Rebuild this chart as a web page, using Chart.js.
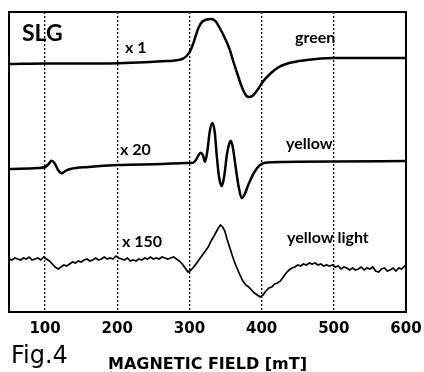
<!DOCTYPE html>
<html>
<head>
<meta charset="utf-8">
<script src="https://cdn.jsdelivr.net/npm/chart.js@4/dist/chart.umd.min.js"></script>
<style>
  html, body { margin: 0; padding: 0; background: #fff; }
  #wrap { width: 424px; height: 372px; }
</style>
</head>
<body>
<div id="wrap"><canvas id="epr"></canvas></div>
<script>
// field in mT, intensity in arbitrary units (traces stacked, offset included)
const greenField = [50, 100, 176, 245, 270, 280, 290, 296, 301, 305, 309, 313, 318, 324, 330, 336, 342, 349, 356, 361, 366, 371, 375.6, 379, 382.5, 387, 391, 396, 400.5, 410, 424, 438, 452, 475, 500, 550, 600];
const greenSignal = [248, 248.5, 248.5, 250, 251, 251.5, 253, 256, 261, 268, 277, 285, 290.5, 292.5, 293, 291, 284, 274, 262, 250, 239, 228, 220, 216, 215, 216, 219, 224, 229, 237, 245, 249, 251, 253, 254, 254, 254];

const yellowField = [50, 90, 100, 105, 109, 113, 118, 123, 128, 135, 160, 201, 263, 295, 303.6, 308, 312, 315.6, 318.5, 321.6, 325, 328, 331.7, 335, 338, 341, 344.7, 348, 352, 355, 357.2, 360, 364, 368, 372.4, 376, 382, 390, 397, 404.7, 430, 500, 600];
const yellowSignal = [143, 144, 145, 148, 151.3, 149, 142, 138.7, 141, 143, 145, 147, 148, 149, 149, 151, 156, 159.3, 157, 150.3, 162, 180, 189, 180, 155, 135, 126, 135, 158, 168, 171.3, 165, 145, 126, 114, 117, 128, 140, 146.5, 149.3, 150, 150.5, 151];

const lightField = [50, 54, 58, 62, 66, 70, 74, 78, 82, 86, 90, 94, 98, 102, 106, 110, 114, 118, 122, 126, 130, 134, 138, 142, 146, 150, 154, 158, 162, 166, 170, 174, 178, 182, 186, 190, 194, 198, 202, 206, 210, 214, 218, 222, 226, 230, 234, 238, 242, 246, 250, 254, 258, 262, 266, 270, 274, 278, 282, 286, 290, 294, 298, 302, 306, 310, 314, 318, 322, 326, 330, 334, 337, 340, 343, 346, 349, 352, 356, 360, 364, 367, 370, 374, 378, 382, 386, 390, 394, 398, 402, 406, 410, 414, 418, 422, 426, 430, 434, 438, 442, 446, 450, 454, 458, 462, 466, 470, 474, 478, 482, 486, 490, 494, 498, 502, 506, 510, 514, 518, 522, 526, 530, 534, 538, 542, 546, 550, 554, 558, 562, 566, 570, 574, 578, 582, 586, 590, 594, 598, 600];
const lightSignal = [53, 52, 54, 53, 52, 54, 53, 55, 52, 53, 54, 52, 55, 53, 51, 48, 45, 43, 45, 47, 46, 48, 50, 49, 51, 50, 52, 53, 51, 52, 54, 52, 53, 55, 53, 54, 53, 56, 54, 53, 52, 54, 51, 52, 51, 53, 52, 54, 53, 55, 53, 54, 53, 55, 54, 53, 54, 55, 53, 51, 48, 44, 40, 42, 45, 49, 53, 57, 61, 65, 71, 76, 80, 84, 87, 85, 81, 73, 64, 55, 47, 42, 37, 31, 27, 25, 22, 19, 17, 15, 17, 21, 24, 25, 28, 29, 31, 35, 39, 42, 44, 45, 47, 46, 48, 47, 49, 48, 49, 47, 48, 46, 47, 46, 47, 45, 46, 43, 45, 44, 42, 44, 42, 43, 45, 42, 44, 43, 45, 41, 40, 43, 44, 41, 42, 44, 41, 44, 43, 46, 45];

const fieldTicks = [100, 200, 300, 400, 500, 600];

const FONT = 'Lato, "Open Sans", sans-serif';
const WIDE = '"DejaVu Sans", sans-serif';

function pts(xs, ys) {
  return xs.map((x, i) => ({ x: x, y: ys[i] }));
}

// frame, labels inside the plot, figure number and axis title
const decor = {
  id: 'decor',
  afterDraw(chart) {
    const ctx = chart.ctx;
    const a = chart.chartArea;
    ctx.save();
    ctx.strokeStyle = '#000';
    ctx.lineWidth = 2;
    ctx.strokeRect(a.left, a.top, a.right - a.left, a.bottom - a.top);

    ctx.fillStyle = '#000';
    ctx.textBaseline = 'alphabetic';
    ctx.font = '700 23px ' + FONT;
    ctx.fillText('SLG', 22, 41);
    ctx.font = '700 16px ' + FONT;
    ctx.fillText('x 1', 125, 53);
    ctx.fillText('green', 295, 43);
    ctx.fillText('x 20', 120, 155);
    ctx.fillText('yellow', 286, 149);
    ctx.fillText('x 150', 122, 247);
    ctx.fillText('yellow light', 287, 243);
    ctx.font = '400 24px ' + WIDE;
    ctx.fillText('Fig.4', 11, 363);
    ctx.font = '700 16px ' + WIDE;
    ctx.fillText('MAGNETIC FIELD [mT]', 108, 369);
    ctx.restore();
  }
};

const epr = document.querySelector('#epr');

new Chart(epr, {
  type: 'line',
  data: {
    datasets: [{
      label: 'green',
      data: pts(greenField, greenSignal),
      borderColor: '#000',
      borderWidth: 2.5,
      cubicInterpolationMode: 'monotone'
    },
    {
      label: 'yellow',
      data: pts(yellowField, yellowSignal),
      borderColor: '#000',
      borderWidth: 2.5,
      cubicInterpolationMode: 'monotone'
    },
    {
      label: 'yellow light',
      data: pts(lightField, lightSignal),
      borderColor: '#000',
      borderWidth: 1.7,
      tension: 0
    }
  ]
  },
  options: {
    responsive: true,
    maintainAspectRatio: false,
    animation: false,
    events: [],
    elements: { point: { radius: 0 } },
    layout: { autoPadding: false, padding: { left: 9, right: 18, top: 12, bottom: 26 } },
    plugins: {
      legend: { display: false },
      tooltip: { enabled: false }
    },
    scales: {
      x: {
        type: 'linear',
        min: 50,
        max: 600,
        afterBuildTicks: (axis) => {
          axis.ticks = fieldTicks.map(v => ({ value: v }));
        },
        border: { display: false, dash: [2, 2] },
        grid: {
          color: (c) => c.tick && c.tick.value === 600 ? 'rgba(0,0,0,0)' : '#000',
          lineWidth: 1.3,
          drawTicks: false
        },
        ticks: {
          color: '#000',
          padding: 2,
          maxRotation: 0,
          font: { family: WIDE, size: 15, weight: '700', lineHeight: 2 }
        }
      },
      y: {
        display: false,
        min: 0,
        max: 300
      }
    }
  },
  plugins: [decor]
});
</script>
</body>
</html>
